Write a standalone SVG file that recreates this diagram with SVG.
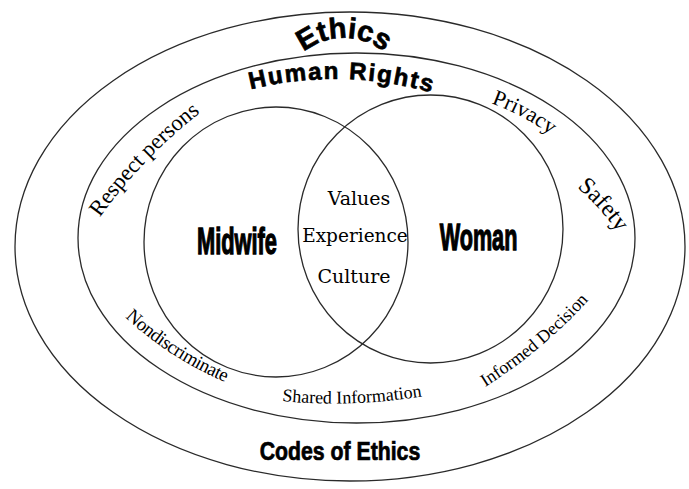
<svg xmlns="http://www.w3.org/2000/svg" width="689" height="489" viewBox="0 0 689 489">
<style>
.ln{fill:none;stroke:#2a2a2a;stroke-width:1.3}
.hv{font-family:"Liberation Sans",Arial,sans-serif;font-weight:bold;fill:#000;stroke:#000;stroke-width:0.7}
.im{font-family:"Liberation Sans",Arial,sans-serif;font-weight:bold;fill:#000;stroke:#000;stroke-width:1.3;text-anchor:middle}
.sf{font-family:"Liberation Serif","Times New Roman",serif;fill:#000}
.cs{font-family:"DejaVu Serif",serif;fill:#000;text-anchor:middle}
</style>
<defs>
<path id="pEthics" d="M 287.7 70.5 A 65 65 0 0 1 400.3 70.5"/>
<path id="pHR" d="M 230 95.1 A 350 350 0 0 1 450 98.4"/>
<path id="pResp" d="M 35.6 339.3 A 508 508 0 0 1 339.3 35.6"/>
<path id="pPriv" d="M 335.3 103.9 A 230 230 0 0 1 640.5 280.1"/>
<path id="pSafe" d="M 413.5 126.5 A 250 250 0 0 1 659.7 419.9"/>
<path id="pNon" d="M 33.9 180 A 350 350 0 0 0 537.8 363.4"/>
<path id="pShared" d="M 282 401 Q 350 408 424 396"/>
<path id="pInf" d="M 305.3 456.4 A 500 500 0 0 0 688.3 135"/>
</defs>
<rect width="689" height="489" fill="#fff"/>
<g id="ethics">
<ellipse class="ln" cx="350" cy="246.5" rx="335" ry="234.5"/>
<text class="hv" font-size="29" stroke-width="1"><textPath href="#pEthics" startOffset="50%" text-anchor="middle">Ethics</textPath></text>
<text class="hv" transform="translate(340 460) scale(0.85 1)" font-size="25" text-anchor="middle">Codes of Ethics</text>
</g>
<g id="human-rights">
<ellipse class="ln" cx="356.5" cy="238" rx="278.5" ry="185"/>
<text class="hv" font-size="24" letter-spacing="1.8"><textPath href="#pHR" startOffset="113.6" text-anchor="middle">Human Rights</textPath></text>
<text class="sf" font-size="22.5"><textPath href="#pResp" startOffset="211" text-anchor="middle">Respect persons</textPath></text>
<text class="sf" font-size="22"><textPath href="#pPriv" startOffset="192.7" text-anchor="middle">Privacy</textPath></text>
<text class="sf" font-size="24"><textPath href="#pSafe" startOffset="208.6" text-anchor="middle">Safety</textPath></text>
<text class="sf" font-size="19" letter-spacing="-0.5"><textPath href="#pNon" startOffset="226" text-anchor="middle">Nondiscriminate</textPath></text>
<text class="sf" font-size="18"><textPath href="#pShared">Shared Information</textPath></text>
<text class="sf" font-size="18"><textPath href="#pInf" startOffset="261.8" text-anchor="middle">Informed Decision</textPath></text>
</g>
<g id="midwife">
<ellipse class="ln" cx="276" cy="242" rx="132" ry="135"/>
<text class="im" transform="translate(237 254) scale(0.59 1)" font-size="37">Midwife</text>
</g>
<g id="woman">
<ellipse class="ln" cx="430.5" cy="229" rx="132.5" ry="134"/>
<text class="im" transform="translate(478.5 250) scale(0.585 1)" font-size="37">Woman</text>
</g>
<g id="shared">
<text class="cs" x="359" y="205" font-size="19">Values</text>
<text class="cs" x="355" y="242" font-size="18.5">Experience</text>
<text class="cs" x="354" y="283" font-size="19">Culture</text>
</g>
<g id="connectors"></g>
</svg>
